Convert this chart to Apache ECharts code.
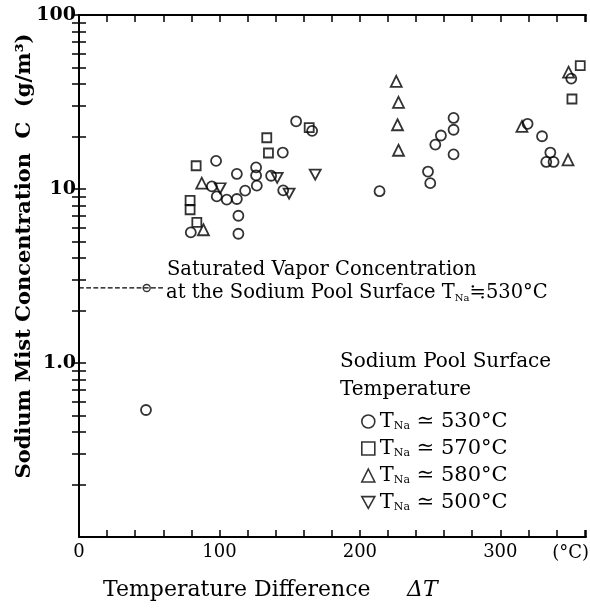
<!DOCTYPE html>
<html><head><meta charset="utf-8">
<script src="https://cdn.jsdelivr.net/npm/echarts@6/dist/echarts.min.js"></script>
<style>html,body{margin:0;padding:0;background:#fff}#c{width:590px;height:608px}</style>
</head><body><div id="c"></div><script>
// ---- data (ΔT in °C, C in g/m3) ----
const xLabels = [0, 100, 200, 300];
const yLabels = [1, 10, 100];
const yTicks = [0.2,0.3,0.4,0.5,0.6,0.7,0.8,0.9,1,2,3,4,5,6,7,8,9,10,20,30,40,50,60,70,80,90,100];
const circle530 = [
  [47.7,0.537],[79.6,5.63],[97.6,14.5],[94.6,10.35],[98.1,9.07],[105.2,8.68],[112.4,8.76],
  [118.3,9.78],[126.6,10.45],[112.4,12.2],[113.5,7.02],[113.5,5.53],[126.1,13.3],[126.1,11.97],
  [136.8,11.92],[145.1,16.2],[145.4,9.82],[154.6,24.5],[166.0,21.6],[214.0,9.71],[248.5,12.6],
  [250.1,10.8],[253.7,18.0],[257.7,20.3],[266.7,25.6],[266.7,21.9],[266.7,15.8],[319.4,23.7],
  [329.7,20.1],[335.6,16.2],[332.7,14.3],[337.9,14.3],[350.5,43.1]
];
const square570 = [[79.1,8.6],[79.1,7.6],[83.9,6.43],[83.4,13.6],[133.7,19.7],[134.9,16.1],[163.9,22.5],[356.9,51.2],[351.0,32.9]];
const tri580 = [[87.4,10.8],[88.6,5.83],[225.9,41.6],[227.5,31.5],[226.8,23.4],[227.5,16.7],[315.4,22.9],[348.2,14.7],[348.6,46.9]];
const down500 = [[168.2,12.1],[100.5,10.1],[141.1,11.6],[149.6,9.4]];
const satLine = [[0,2.7],[60,2.7]];
const satPoint = [[48.2,2.7]];
const seriesNames = ['530','570','580','500'];

const SERIF = '"DejaVu Serif", "Liberation Serif", serif';
const chart = echarts.init(document.getElementById('c'));
const hollow = {color:'rgba(0,0,0,0)', borderColor:'#000', borderWidth:1.8};
const downTri = 'path://M0,0 L10,0 L5,9 Z';

const xBase = {type:'value', min:0, max:361, interval:20, splitLine:{show:false},
  axisLine:{show:true, lineStyle:{color:'#000', width:2}},
  axisTick:{show:true, inside:true, length:7, lineStyle:{color:'#000', width:1.5}}};
const yBase = {type:'log', logBase:10, min:0.1, max:100, splitLine:{show:false},
  axisLine:{show:true, lineStyle:{color:'#000', width:2}},
  axisTick:{show:true, inside:true, length:7, customValues:yTicks, lineStyle:{color:'#000', width:1.5}}};

chart.setOption({
  animation:false,
  backgroundColor:'#fff',
  grid:{left:79, right:4, top:15, bottom:71},
  xAxis:[
    Object.assign({}, xBase, {position:'bottom',
      axisLabel:{show:true, margin:6, color:'#000', fontFamily:SERIF, fontSize:18,
        formatter:v => xLabels.indexOf(Math.round(v))>=0 && Math.abs(v-Math.round(v))<1e-6 ? String(Math.round(v)) : ''}}),
    Object.assign({}, xBase, {position:'top', axisLabel:{show:false}})
  ],
  yAxis:[
    Object.assign({}, yBase, {position:'left',
      axisLabel:{show:true, margin:3, color:'#000', fontFamily:SERIF, fontWeight:'bold', fontSize:19,
        customValues:yLabels, formatter:v => Math.abs(v-1)<1e-9 ? '1.0' : String(Math.round(v))}}),
    Object.assign({}, yBase, {position:'right', axisLabel:{show:false}})
  ],
  legend:{
    orient:'vertical', left:356, top:406, itemWidth:13, itemHeight:13, itemGap:6,
    selectedMode:false, data:seriesNames,
    itemStyle:{color:'rgba(0,0,0,0)', borderColor:'#000', borderWidth:1.6},
    formatter: n => '{t|T}{s|Na}{t| ≃ ' + n + '°C}',
    textStyle:{rich:{
      t:{fontFamily:SERIF, fontSize:21, color:'#000', lineHeight:21},
      s:{fontFamily:SERIF, fontSize:11, color:'#000', lineHeight:21, verticalAlign:'bottom'}
    }}
  },
  series:[
    {type:'line', data:satLine, showSymbol:false, silent:true, lineStyle:{type:'dashed', width:1.2, color:'#000'}},
    {type:'scatter', data:satPoint, symbol:'circle', symbolSize:7, silent:true, itemStyle:{color:'#fff', borderColor:'#000', borderWidth:1.4}},
    {name:'530', type:'scatter', data:circle530, symbol:'circle', symbolSize:10, itemStyle:hollow},
    {name:'570', type:'scatter', data:square570, symbol:'rect', symbolSize:9, itemStyle:hollow},
    {name:'580', type:'scatter', data:tri580, symbol:'triangle', symbolSize:11, itemStyle:hollow},
    {name:'500', type:'scatter', data:down500, symbol:downTri, symbolSize:[11,10], itemStyle:hollow}
  ],
  graphic:[
    {type:'text', x:25, y:256, rotation:Math.PI/2, style:{text:'Sodium Mist Concentration  C  (g/m³)',
      fill:'#000', fontFamily:SERIF, fontWeight:'bold', fontSize:21, textAlign:'center', textVerticalAlign:'middle'}},
    {type:'text', x:103, y:590, style:{text:'Temperature Difference', fill:'#000', fontFamily:SERIF, fontSize:22, textAlign:'left', textVerticalAlign:'middle'}},
    {type:'text', x:407, y:590, style:{text:'ΔT', fill:'#000', fontFamily:SERIF, fontSize:22, fontStyle:'italic', textAlign:'left', textVerticalAlign:'middle'}},
    {type:'text', x:589, y:553, style:{text:'(°C)', fill:'#000', fontFamily:SERIF, fontSize:18, textAlign:'right', textVerticalAlign:'middle'}},
    {type:'text', x:167, y:270, style:{text:'Saturated Vapor Concentration', fill:'#000', fontFamily:SERIF, fontSize:19.5, textAlign:'left', textVerticalAlign:'middle'}},
    {type:'text', x:166, y:293, style:{text:'{t|at the Sodium Pool Surface T}{s|Na}{t|≒530°C}', textAlign:'left', textVerticalAlign:'middle',
      rich:{t:{fill:'#000', fontFamily:SERIF, fontSize:19.5, lineHeight:20}, s:{fill:'#000', fontFamily:SERIF, fontSize:10, lineHeight:20, verticalAlign:'bottom'}}}},
    {type:'text', x:340, y:362, style:{text:'Sodium Pool Surface', fill:'#000', fontFamily:SERIF, fontSize:20, textAlign:'left', textVerticalAlign:'middle'}},
    {type:'text', x:340, y:390, style:{text:'Temperature', fill:'#000', fontFamily:SERIF, fontSize:20, textAlign:'left', textVerticalAlign:'middle'}}
  ]
});
</script></body></html>
